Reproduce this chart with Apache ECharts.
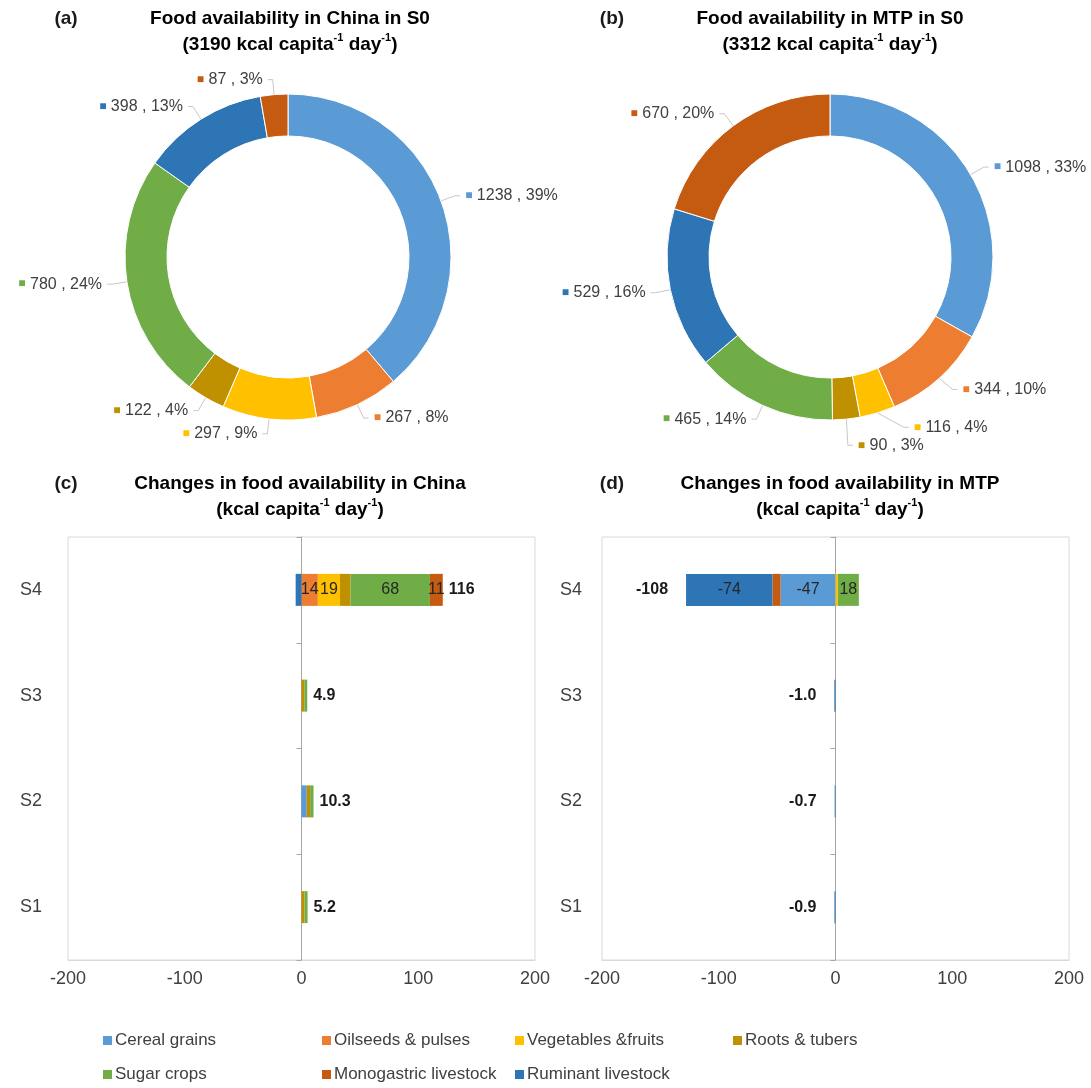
<!DOCTYPE html>
<html>
<head>
<meta charset="utf-8">
<script src="https://cdn.jsdelivr.net/npm/echarts@6/dist/echarts.min.js"></script>
<style>
  html, body { margin: 0; padding: 0; background: #fff; }
  #chart { width: 1091px; height: 1088px; }
</style>
</head>
<body>
<div id="chart"></div>
<script>
// Food groups (legend / stacking order)
const categories = ['Cereal grains', 'Oilseeds & pulses', 'Vegetables &fruits', 'Roots & tubers',
                    'Sugar crops', 'Monogastric livestock', 'Ruminant livestock'];
const groupColors = ['#5B9BD5', '#ED7D31', '#FFC000', '#BF9000', '#70AD47', '#C55A11', '#2E75B6'];

// Clockwise order of the ring slices (indices into categories)
const pieOrder = [0, 1, 2, 3, 4, 6, 5];

// S0 food availability (kcal capita-1 day-1), same order as categories
const chinaS0 = [1238, 267, 297, 122, 780, 87, 398];
const mtpS0   = [1098, 344, 116, 90, 465, 670, 529];

// Scenarios, bottom to top
const scenarios = ['S1', 'S2', 'S3', 'S4'];
const xTicks = [-200, -100, 0, 100, 200];

// Changes in China (kcal capita-1 day-1), per scenario S1..S4
const chinaCereal   = [0, 4.5, 0, 0];
const chinaOilseeds = [0, 0, 0, 14];
const chinaVeg      = [0, 0, 0, 19];
const chinaRoots    = [2.6, 2.9, 2.4, 9];
const chinaSugar    = [2.6, 2.9, 2.5, 68];
const chinaMono     = [0, 0, 0, 11];
const chinaRuminant = [0, 0, 0, -5];
const chinaTotal    = [5.2, 10.3, 4.9, 116];

// Changes in MTP (kcal capita-1 day-1), per scenario S1..S4
const mtpCereal   = [0, 0, 0, -47];
const mtpOilseeds = [0, 0, 0, 0];
const mtpVeg      = [0, 0, 0, 2];
const mtpRoots    = [0, 0, 0, 0];
const mtpSugar    = [0, 0, 0, 18];
const mtpMono     = [0, 0, 0, -7];
const mtpRuminant = [-0.9, -0.7, -1.0, -74];
const mtpTotal    = [-0.9, -0.7, -1.0, -108];

const FONT = '"Liberation Sans", Arial, sans-serif';
const TEXT = '#404040';

const chart = echarts.init(document.getElementById('chart'), null, { renderer: 'canvas' });

// ---------- titles ----------
function titleRich() {
  return {
    b: { fontFamily: FONT, fontSize: 19, fontWeight: 'bold', color: '#1a1a1a', lineHeight: 26 },
    s: { fontFamily: FONT, fontSize: 11, fontWeight: 'bold', color: '#1a1a1a', lineHeight: 16, verticalAlign: 'top' }
  };
}
function titleText(cx, y, line1, line2) {
  return {
    type: 'text', x: cx, y: y,
    style: {
      text: '{b|' + line1 + '}\n{b|' + line2 + '}{s|-1}{b| day}{s|-1}{b|)}',
      rich: titleRich(), align: 'center', verticalAlign: 'top'
    }
  };
}
function panelTag(x, y, t) {
  return { type: 'text', x: x, y: y,
    style: { text: t, font: 'bold 19px ' + FONT, fill: '#1a1a1a', align: 'center', verticalAlign: 'middle' } };
}

// ---------- rings ----------
function richSquares() {
  const r = {};
  groupColors.forEach((c, i) => { r['m' + i] = { color: c, fontSize: 12, fontFamily: FONT }; });
  return r;
}
function pieSeries(values, cx) {
  return {
    type: 'pie',
    center: [cx, 257],
    radius: [121, 163],
    startAngle: 90,
    clockwise: true,
    percentPrecision: 0,
    avoidLabelOverlap: true,
    itemStyle: { borderColor: '#ffffff', borderWidth: 1 },
    label: {
      show: true, position: 'outside',
      width: 104, overflow: 'none',
      fontFamily: FONT, fontSize: 16, color: TEXT,
      formatter: p => '{m' + p.data.group + '|■} ' + p.value + ' , ' + p.percent + '%',
      rich: richSquares()
    },
    labelLine: { show: true, length: 15, length2: 5, lineStyle: { color: '#C8C8C8', width: 1 } },
    emphasis: { disabled: true },
    data: pieOrder.map(i => ({ name: categories[i], value: values[i], group: i, itemStyle: { color: groupColors[i] } }))
  };
}

// ---------- bars ----------
function fmtTotal(v) {
  return Math.abs(v) >= 100 ? String(v) : v.toFixed(1);
}
function barSeries(values, idx, g) {
  return {
    name: categories[idx], type: 'bar', stack: 'g' + g,
    xAxisIndex: g, yAxisIndex: g * 2,
    barWidth: 32,
    itemStyle: { color: groupColors[idx] },
    label: {
      show: true, position: 'inside', fontFamily: FONT, fontSize: 16, color: '#262626',
      formatter: p => Math.abs(p.value) >= 10 ? String(p.value) : ''
    },
    emphasis: { disabled: true },
    data: values
  };
}
// zero-length marker sitting at the end of each stack, carrying the total label
function totalSeries(totals, g, strategy, side, dist) {
  return {
    type: 'bar', stack: 'g' + g, stackStrategy: strategy,
    xAxisIndex: g, yAxisIndex: g * 2,
    barWidth: 32,
    itemStyle: { color: 'rgba(0,0,0,0)' },
    label: {
      show: true, position: side, distance: dist,
      fontFamily: FONT, fontSize: 16, fontWeight: 'bold', color: '#1a1a1a',
      formatter: p => fmtTotal(totals[p.dataIndex])
    },
    emphasis: { disabled: true },
    silent: true,
    data: totals.map(() => 0)
  };
}

const chinaGroups = [chinaCereal, chinaOilseeds, chinaVeg, chinaRoots, chinaSugar, chinaMono, chinaRuminant];
const mtpGroups   = [mtpCereal, mtpOilseeds, mtpVeg, mtpRoots, mtpSugar, mtpMono, mtpRuminant];

const grids = [
  { left: 68, top: 537, width: 467, height: 423, show: true, borderColor: '#D9D9D9', borderWidth: 1 },
  { left: 602, top: 537, width: 467, height: 423, show: true, borderColor: '#D9D9D9', borderWidth: 1 }
];

function xAxis(g) {
  return {
    type: 'value', gridIndex: g, min: xTicks[0], max: xTicks[xTicks.length - 1], interval: 100,
    axisLine: { show: true, lineStyle: { color: '#D9D9D9' } },
    axisTick: { show: false },
    splitLine: { show: false },
    axisLabel: { fontFamily: FONT, fontSize: 18, color: TEXT, margin: 10 }
  };
}
function yAxes(g, labelMargin) {
  return [
    { // zero line with category ticks
      type: 'category', gridIndex: g, data: scenarios,
      axisLine: { show: true, onZero: true, lineStyle: { color: '#A6A6A6' } },
      axisTick: { show: true, length: 5, lineStyle: { color: '#A6A6A6' } },
      axisLabel: { show: false }
    },
    { // scenario names along the left edge
      type: 'category', gridIndex: g, data: scenarios, position: 'left',
      axisLine: { show: false, onZero: false }, axisTick: { show: false },
      axisLabel: { fontFamily: FONT, fontSize: 18, color: TEXT, margin: labelMargin }
    }
  ];
}

const series = [
  pieSeries(chinaS0, 288),
  pieSeries(mtpS0, 830)
];
chinaGroups.forEach((v, i) => series.push(barSeries(v, i, 0)));
series.push(totalSeries(chinaTotal, 0, 'positive', 'right', 6));
mtpGroups.forEach((v, i) => series.push(barSeries(v, i, 1)));
series.push(totalSeries(mtpTotal, 1, 'negative', 'left', 18));

// one legend entry per slot: two rows, four columns
const legendCols = [98, 317, 510, 728];
function legendItem(i) {
  const row = i < 4 ? 0 : 1;
  const col = i < 4 ? i : i - 4;
  return {
    left: legendCols[col], top: row === 0 ? 1027 : 1061,
    icon: 'rect', itemWidth: 9, itemHeight: 9,
    selectedMode: false,
    textStyle: { fontFamily: FONT, fontSize: 17, color: TEXT, padding: [0, 0, 0, -2] },
    data: [categories[i]]
  };
}

chart.setOption({
  backgroundColor: '#ffffff',
  animation: false,
  color: groupColors,
  grid: grids,
  xAxis: [xAxis(0), xAxis(1)],
  yAxis: yAxes(0, 26).concat(yAxes(1, 20)),
  legend: categories.map((c, i) => legendItem(i)),
  graphic: [
    panelTag(66, 19, '(a)'),
    titleText(290, 6, 'Food availability in China in S0', '(3190 kcal capita'),
    panelTag(612, 19, '(b)'),
    titleText(830, 6, 'Food availability in MTP in S0', '(3312 kcal capita'),
    panelTag(66, 484, '(c)'),
    titleText(300, 471, 'Changes in food availability in China', '(kcal capita'),
    panelTag(612, 484, '(d)'),
    titleText(840, 471, 'Changes in food availability in MTP', '(kcal capita')
  ],
  series: series
});
</script>
</body>
</html>
